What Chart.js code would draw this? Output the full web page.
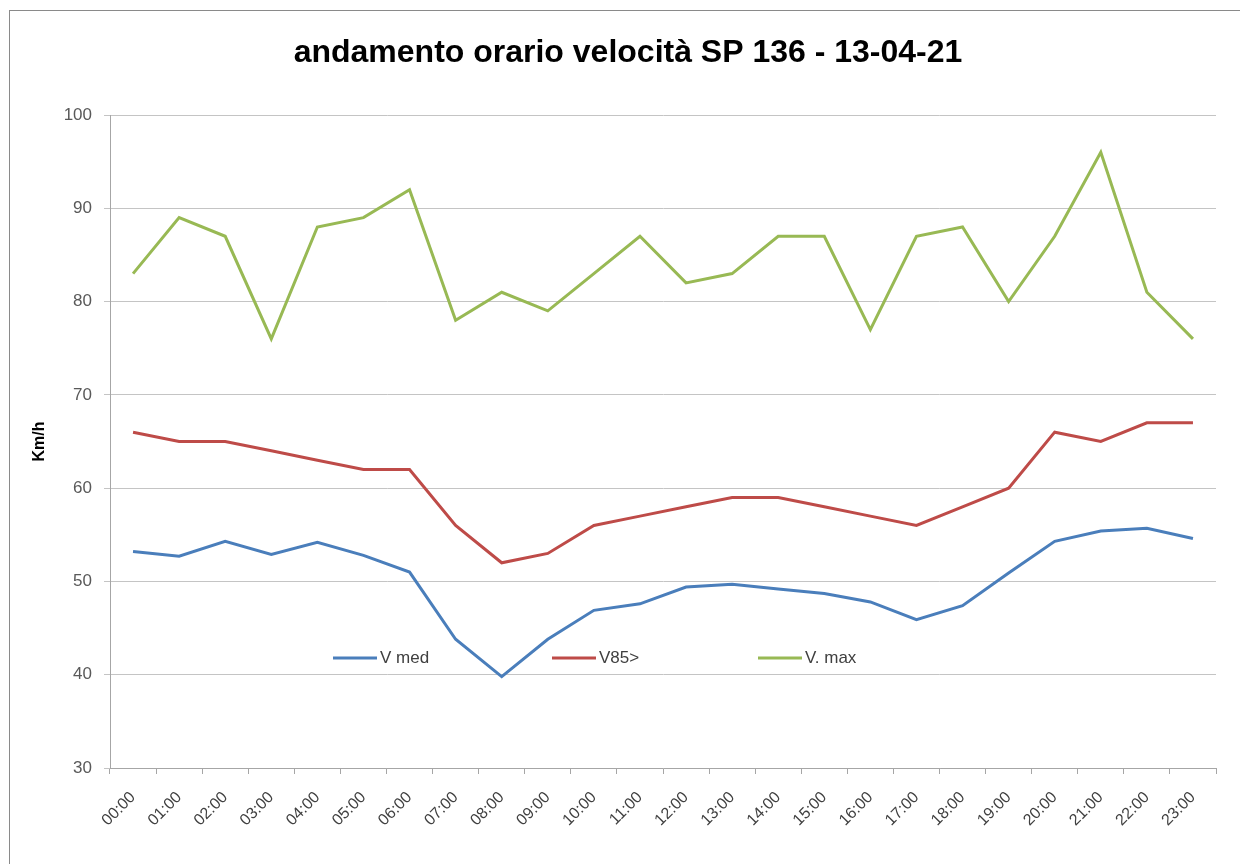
<!DOCTYPE html>
<html>
<head>
<meta charset="utf-8">
<script src="https://cdn.jsdelivr.net/npm/chart.js@4/dist/chart.umd.min.js"></script>
<style>
  html, body { margin: 0; padding: 0; background: #fff; overflow: hidden; }
  #wrap { position: relative; width: 1240px; height: 864px; }
  #frame { position: absolute; left: 9px; top: 10px; width: 1260px; height: 880px; border: 1px solid #8a8a8a; box-sizing: border-box; pointer-events: none; }
</style>
</head>
<body>
<div id="wrap">
  <canvas id="c" width="1240" height="864"></canvas>
  <div id="frame"></div>
</div>
<script>
const hours = ['00:00','01:00','02:00','03:00','04:00','05:00','06:00','07:00','08:00','09:00','10:00','11:00',
               '12:00','13:00','14:00','15:00','16:00','17:00','18:00','19:00','20:00','21:00','22:00','23:00'];
const vMed = [53.2, 52.7, 54.3, 52.9, 54.2, 52.8, 51.0, 43.8, 39.8, 43.8, 46.9, 47.6,
              49.4, 49.7, 49.2, 48.7, 47.8, 45.9, 47.4, 50.9, 54.3, 55.4, 55.7, 54.6];
const v85 = [66, 65, 65, 64, 63, 62, 62, 56, 52, 53, 56, 57,
             58, 59, 59, 58, 57, 56, 58, 60, 66, 65, 67, 67];
const vMax = [83, 89, 87, 76, 88, 89, 92, 78, 81, 79, 83, 87,
              82, 83, 87, 87, 77, 87, 88, 80, 87, 96, 81, 76];
const seriesNames = ['V med', 'V85>', 'V. max'];
const yTicks = [30, 40, 50, 60, 70, 80, 90, 100];

const FONT = "'Liberation Sans', Arial, sans-serif";

const titleShift = {
  id: 'titleShift',
  afterLayout(chart) {
    const t = chart.titleBlock;
    if (t) { t.left += 20; t.right += 20; }
  }
};

const inlineLegend = {
  id: 'inlineLegend',
  afterDraw(chart) {
    const ctx = chart.ctx;
    const xs = [333, 552, 758];
    const y = 658;
    ctx.save();
    ctx.font = '17px ' + FONT;
    ctx.textBaseline = 'middle';
    ctx.textAlign = 'left';
    chart.data.datasets.forEach((ds, i) => {
      ctx.strokeStyle = ds.borderColor;
      ctx.lineWidth = 3;
      ctx.beginPath();
      ctx.moveTo(xs[i], y);
      ctx.lineTo(xs[i] + 44, y);
      ctx.stroke();
      ctx.fillStyle = '#404040';
      ctx.fillText(ds.label, xs[i] + 47, y);
    });
    ctx.restore();
  }
};

new Chart(document.getElementById('c'), {
  type: 'line',
  data: {
    labels: hours,
    datasets: [
      { label: seriesNames[0], data: vMed, borderColor: '#4A7EBB', backgroundColor: '#4A7EBB' },
      { label: seriesNames[1], data: v85, borderColor: '#BE4B48', backgroundColor: '#BE4B48' },
      { label: seriesNames[2], data: vMax, borderColor: '#98B954', backgroundColor: '#98B954' }
    ]
  },
  options: {
    responsive: false,
    animation: false,
    devicePixelRatio: 1,
    layout: { padding: { left: 0, right: 24, top: 0, bottom: 0 } },
    elements: {
      line: { borderWidth: 3, tension: 0 },
      point: { radius: 0, hoverRadius: 0 }
    },
    plugins: {
      legend: { display: false },
      tooltip: { enabled: false },
      title: {
        display: true,
        text: 'andamento orario velocità SP 136 - 13-04-21',
        color: '#000',
        font: { family: FONT, size: 32, weight: 'bold' },
        padding: { top: 34, bottom: 42.6 }
      }
    },
    scales: {
      x: {
        offset: true,
        grid: { display: true, drawOnChartArea: false, drawTicks: true, tickLength: 6, color: '#a6a6a6', offset: true },
        border: { display: true, color: '#a6a6a6' },
        ticks: {
          color: '#404040',
          font: { family: FONT, size: 16 },
          maxRotation: 45, minRotation: 45, autoSkip: false, padding: 14
        },
        afterFit(s) { s.height = 96; }
      },
      y: {
        min: 30, max: 100,
        afterBuildTicks(s) { s.ticks = yTicks.map(v => ({ value: v })); },
        grid: { color: '#c4c4c4', tickLength: 6, drawTicks: true },
        border: { display: true, color: '#a6a6a6' },
        ticks: { color: '#595959', font: { family: FONT, size: 17 }, padding: 12 },
        title: {
          display: true, text: 'Km/h', color: '#000',
          font: { family: FONT, size: 16, weight: 'bold' },
          padding: { top: 30, bottom: 0 }
        },
        afterFit(s) { s.width = 110; }
      }
    }
  },
  plugins: [titleShift, inlineLegend]
});
</script>
</body>
</html>
